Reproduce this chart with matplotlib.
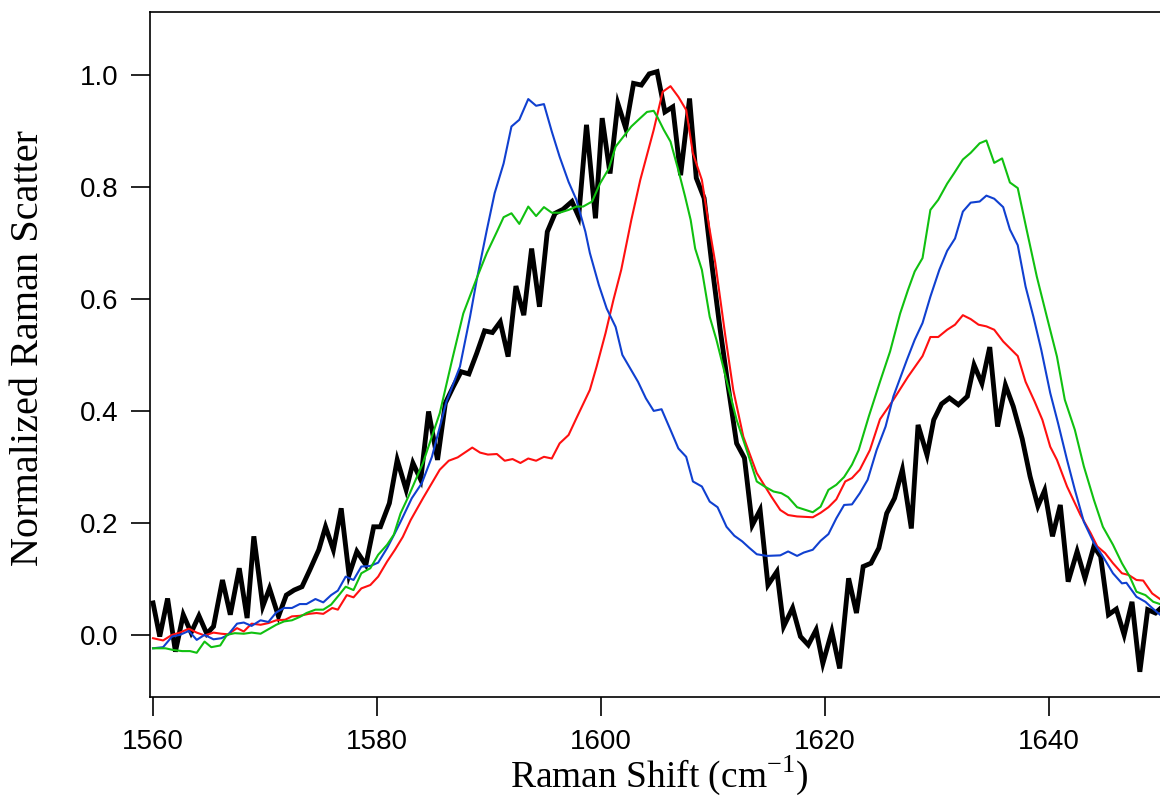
import numpy as np
import matplotlib
matplotlib.use("Agg")
import matplotlib.pyplot as plt

# black trace (noisy measured spectrum)
black_x = [1560.0, 1560.6, 1561.3, 1562.0, 1562.7, 1563.4, 1564.1, 1564.8, 1565.4, 1566.2,
           1566.9, 1567.7, 1568.4, 1569.0, 1569.8, 1570.4, 1571.2, 1571.9, 1572.6, 1573.3,
           1574.0, 1574.8, 1575.4, 1576.1, 1576.8, 1577.5, 1578.2, 1579.0, 1579.7, 1580.3,
           1581.1, 1581.8, 1582.6, 1583.2, 1583.9, 1584.6, 1585.4, 1586.1, 1586.8, 1587.5,
           1588.2, 1588.9, 1589.6, 1590.3, 1591.0, 1591.7, 1592.4, 1593.1, 1593.8, 1594.5,
           1595.2, 1595.9, 1596.6, 1597.4, 1598.0, 1598.7, 1599.5, 1600.1, 1600.8, 1601.5,
           1602.2, 1602.9, 1603.6, 1604.3, 1605.0, 1605.7, 1606.4, 1607.1, 1607.9, 1608.5,
           1609.2, 1609.9, 1610.6, 1611.3, 1612.1, 1612.8, 1613.5, 1614.2, 1614.9, 1615.7,
           1616.3, 1617.1, 1617.8, 1618.5, 1619.2, 1619.8, 1620.6, 1621.3, 1622.1, 1622.8,
           1623.4, 1624.1, 1624.8, 1625.5, 1626.2, 1626.9, 1627.7, 1628.3, 1629.1, 1629.7,
           1630.4, 1631.1, 1631.9, 1632.7, 1633.3, 1634.0, 1634.7, 1635.4, 1636.1, 1636.8,
           1637.6, 1638.3, 1639.0, 1639.6, 1640.3, 1641.0, 1641.7, 1642.5, 1643.2, 1644.0,
           1644.6, 1645.3, 1646.0, 1646.7, 1647.4, 1648.1, 1648.8, 1649.5, 1650.1]
black_y = [0.057, -0.003, 0.065, -0.030, 0.036, 0.004, 0.034, 0.002, 0.015, 0.098,
           0.036, 0.119, 0.030, 0.176, 0.051, 0.083, 0.033, 0.071, 0.080, 0.086,
           0.116, 0.152, 0.193, 0.152, 0.226, 0.107, 0.149, 0.125, 0.193, 0.193,
           0.235, 0.3125, 0.259, 0.307, 0.277, 0.399, 0.3125, 0.414, 0.443, 0.470,
           0.466, 0.503, 0.543, 0.540, 0.559, 0.497, 0.623, 0.571, 0.690, 0.586,
           0.720, 0.753, 0.760, 0.774, 0.747, 0.911, 0.744, 0.923, 0.824, 0.949,
           0.905, 0.985, 0.982, 1.002, 1.006, 0.934, 0.943, 0.821, 0.958, 0.816,
           0.780, 0.66, 0.55, 0.45, 0.342, 0.316, 0.196, 0.223, 0.089, 0.113,
           0.015, 0.048, -0.003, -0.018, 0.009, -0.051, 0.006, -0.060, 0.101, 0.039,
           0.122, 0.128, 0.155, 0.217, 0.244, 0.295, 0.190, 0.375, 0.321, 0.384,
           0.4125, 0.423, 0.411, 0.426, 0.482, 0.449, 0.514, 0.372, 0.446, 0.408,
           0.350, 0.283, 0.230, 0.258, 0.176, 0.232, 0.095, 0.149, 0.101, 0.158,
           0.140, 0.036, 0.046, 0.000, 0.059, -0.066, 0.045, 0.039, 0.05]

red_x = [1560.0, 1560.9, 1561.7, 1562.4, 1563.2, 1563.9, 1564.6, 1565.4, 1566.1, 1566.7,
         1567.5, 1568.1, 1568.8, 1569.6, 1570.3, 1571.0, 1571.8, 1572.4, 1573.1, 1573.9,
         1574.6, 1575.2, 1576.0, 1576.5, 1577.3, 1577.9, 1578.6, 1579.4, 1580.1, 1580.9,
         1581.6, 1582.3, 1583.0, 1584.1, 1585.6, 1586.4, 1587.2, 1588.5, 1589.2, 1589.9,
         1590.7, 1591.4, 1592.1, 1592.8, 1593.5, 1594.2, 1594.9, 1595.6, 1596.3, 1597.1,
         1597.8, 1599.0, 1599.6, 1600.4, 1601.1, 1601.8, 1602.7, 1603.5, 1604.7, 1605.5,
         1606.2, 1606.9, 1607.6, 1608.2, 1609.0, 1609.6, 1610.2, 1611.1, 1611.8, 1612.7,
         1613.9, 1615.2, 1616.0, 1616.7, 1617.5, 1618.9, 1619.6, 1620.3, 1621.0, 1621.8,
         1622.4, 1623.1, 1624.0, 1624.9, 1626.1, 1627.4, 1628.7, 1629.4, 1630.1, 1630.9,
         1631.6, 1632.3, 1633.0, 1633.7, 1634.4, 1635.1, 1635.9, 1636.5, 1637.2, 1637.9,
         1638.7, 1639.4, 1640.1, 1640.7, 1641.6, 1642.8, 1643.7, 1644.3, 1645.0, 1645.7,
         1646.5, 1647.1, 1647.8, 1648.4, 1649.2, 1649.9]
red_y = [-0.006, -0.010, 0.000, 0.004, 0.011, 0.004, -0.001, 0.004, 0.002, 0.001,
         0.012, 0.006, 0.020, 0.018, 0.021, 0.026, 0.027, 0.033, 0.034, 0.0375,
         0.039, 0.0375, 0.048, 0.045, 0.071, 0.067, 0.083, 0.089, 0.104, 0.131,
         0.152, 0.175, 0.205, 0.244, 0.295, 0.311, 0.317, 0.3345, 0.3255, 0.322,
         0.323, 0.311, 0.314, 0.307, 0.315, 0.311, 0.318, 0.315, 0.342, 0.357,
         0.387, 0.4375, 0.479, 0.539, 0.598, 0.652, 0.741, 0.8125, 0.902, 0.970,
         0.980, 0.961, 0.9375, 0.860, 0.8125, 0.735, 0.664, 0.533, 0.4375, 0.354,
         0.289, 0.247, 0.223, 0.214, 0.2115, 0.210, 0.218, 0.228, 0.242, 0.274,
         0.280, 0.295, 0.330, 0.385, 0.420, 0.461, 0.498, 0.532, 0.532, 0.545,
         0.554, 0.571, 0.564, 0.554, 0.551, 0.545, 0.524, 0.512, 0.498, 0.452,
         0.417, 0.384, 0.336, 0.3125, 0.265, 0.214, 0.182, 0.158, 0.146, 0.128,
         0.110, 0.107, 0.098, 0.097, 0.074, 0.064]

green_x = [1560.0, 1561.1, 1561.8, 1562.6, 1563.3, 1563.9, 1564.6, 1565.2, 1566.0, 1566.6,
           1567.3, 1568.1, 1568.8, 1569.6, 1570.3, 1571.0, 1571.7, 1572.4, 1573.1, 1573.7,
           1574.5, 1575.2, 1575.9, 1576.6, 1577.2, 1577.9, 1578.6, 1579.4, 1580.1, 1580.9,
           1581.5, 1582.1, 1582.8, 1584.1, 1585.6, 1586.7, 1587.7, 1588.9, 1589.8, 1590.7,
           1591.3, 1592.0, 1592.7, 1593.5, 1594.2, 1594.9, 1595.6, 1596.3, 1597.1, 1597.8,
           1598.4, 1599.2, 1599.9, 1600.7, 1601.3, 1602.0, 1602.7, 1603.5, 1604.1, 1604.7,
           1605.0, 1605.6, 1606.2, 1606.9, 1607.5, 1608.0, 1608.4, 1609.0, 1609.7, 1610.3,
           1611.2, 1612.1, 1613.2, 1613.9, 1614.6, 1615.4, 1616.1, 1616.7, 1617.5, 1618.9,
           1619.6, 1620.3, 1621.0, 1621.7, 1622.4, 1623.0, 1623.9, 1624.9, 1625.8, 1626.7,
           1627.4, 1628.0, 1628.7, 1629.4, 1630.1, 1630.9, 1631.5, 1632.3, 1633.0, 1633.8,
           1634.4, 1635.1, 1635.8, 1636.5, 1637.2, 1638.0, 1638.9, 1639.8, 1640.7, 1641.4,
           1642.3, 1643.1, 1644.0, 1644.8, 1645.7, 1646.5, 1647.2, 1647.8, 1648.6, 1649.3,
           1649.9]
green_y = [-0.024, -0.024, -0.027, -0.029, -0.029, -0.032, -0.012, -0.022, -0.019, 0.000,
           0.003, 0.002, 0.004, 0.002, 0.010, 0.018, 0.024, 0.026, 0.032, 0.039,
           0.045, 0.045, 0.054, 0.071, 0.086, 0.080, 0.110, 0.119, 0.143, 0.161,
           0.179, 0.217, 0.247, 0.307, 0.396, 0.491, 0.574, 0.637, 0.682, 0.720,
           0.746, 0.753, 0.734, 0.765, 0.748, 0.764, 0.754, 0.754, 0.759, 0.765,
           0.765, 0.774, 0.806, 0.833, 0.872, 0.890, 0.908, 0.923, 0.934, 0.936,
           0.926, 0.902, 0.881, 0.830, 0.783, 0.741, 0.690, 0.652, 0.568, 0.527,
           0.455, 0.384, 0.318, 0.274, 0.265, 0.256, 0.253, 0.246, 0.228, 0.219,
           0.229, 0.259, 0.268, 0.282, 0.304, 0.330, 0.390, 0.452, 0.506, 0.574,
           0.616, 0.649, 0.673, 0.759, 0.777, 0.806, 0.824, 0.849, 0.861, 0.878,
           0.883, 0.843, 0.851, 0.808, 0.798, 0.723, 0.640, 0.568, 0.497, 0.420,
           0.366, 0.301, 0.241, 0.193, 0.161, 0.128, 0.104, 0.077, 0.071, 0.059,
           0.055]

blue_x = [1560.0, 1560.9, 1561.7, 1562.4, 1563.2, 1563.9, 1564.6, 1565.4, 1566.1, 1566.7,
          1567.5, 1568.1, 1568.8, 1569.6, 1570.3, 1571.0, 1571.7, 1572.4, 1573.1, 1573.7,
          1574.5, 1575.2, 1575.9, 1576.5, 1577.2, 1577.9, 1578.6, 1579.4, 1580.1, 1580.9,
          1581.6, 1582.1, 1583.1, 1584.0, 1584.9, 1586.2, 1587.4, 1588.3, 1588.9, 1589.8,
          1590.5, 1591.3, 1592.0, 1592.7, 1593.5, 1594.2, 1594.9, 1595.6, 1596.3, 1597.1,
          1597.8, 1598.6, 1599.0, 1599.8, 1600.5, 1601.3, 1601.9, 1602.6, 1603.3, 1604.0,
          1604.7, 1605.4, 1606.2, 1606.9, 1607.6, 1608.2, 1609.0, 1609.7, 1610.4, 1611.2,
          1611.9, 1612.6, 1613.2, 1613.9, 1614.8, 1616.0, 1616.7, 1617.5, 1618.1, 1618.9,
          1619.6, 1620.3, 1621.0, 1621.7, 1622.4, 1623.1, 1623.8, 1624.6, 1625.4, 1626.1,
          1627.3, 1628.0, 1628.7, 1629.4, 1630.2, 1630.9, 1631.6, 1632.3, 1633.0, 1633.8,
          1634.4, 1635.1, 1635.9, 1636.5, 1637.2, 1637.9, 1638.6, 1639.3, 1640.1, 1640.8,
          1641.6, 1642.3, 1643.1, 1644.0, 1644.8, 1645.7, 1646.5, 1646.9, 1647.8, 1648.6,
          1649.2, 1649.9]
blue_y = [-0.024, -0.022, -0.003, 0.000, 0.007, -0.009, 0.000, -0.008, -0.006, 0.000,
          0.020, 0.022, 0.016, 0.026, 0.023, 0.040, 0.048, 0.048, 0.055, 0.055,
          0.064, 0.058, 0.071, 0.079, 0.104, 0.098, 0.122, 0.123, 0.129, 0.155,
          0.182, 0.202, 0.244, 0.271, 0.318, 0.417, 0.479, 0.568, 0.634, 0.723,
          0.789, 0.842, 0.908, 0.920, 0.957, 0.945, 0.948, 0.899, 0.854, 0.809,
          0.777, 0.720, 0.682, 0.625, 0.583, 0.550, 0.500, 0.476, 0.452, 0.4225,
          0.400, 0.403, 0.366, 0.333, 0.318, 0.274, 0.265, 0.238, 0.228, 0.193,
          0.177, 0.167, 0.156, 0.144, 0.141, 0.142, 0.149, 0.141, 0.147, 0.152,
          0.168, 0.180, 0.208, 0.232, 0.233, 0.253, 0.277, 0.330, 0.372, 0.426,
          0.491, 0.527, 0.557, 0.604, 0.652, 0.686, 0.708, 0.756, 0.772, 0.774,
          0.7845, 0.779, 0.764, 0.724, 0.696, 0.622, 0.568, 0.509, 0.432, 0.378,
          0.3125, 0.259, 0.202, 0.164, 0.140, 0.110, 0.092, 0.093, 0.068, 0.059,
          0.048, 0.036]

x_ticks = [1560, 1580, 1600, 1620, 1640]
y_ticks = [0.0, 0.2, 0.4, 0.6, 0.8, 1.0]

plt.rcParams['font.family'] = ['Liberation Sans', 'DejaVu Sans']
plt.rcParams['mathtext.fontset'] = 'custom'
plt.rcParams['mathtext.rm'] = 'Liberation Serif'

fig = plt.figure(figsize=(11.6, 8.1), dpi=100)
ax = fig.add_axes([150 / 1160, 1 - 697 / 810, 1010 / 1160, 685 / 810])

ax.plot(black_x, black_y, color='black', lw=3.5, solid_joinstyle='miter', zorder=2)
ax.plot(red_x, red_y, color='#ff1010', lw=1.5, zorder=3)
ax.plot(blue_x, blue_y, color='#1040d0', lw=1.5, zorder=3)
ax.plot(green_x, green_y, color='#10c010', lw=1.5, zorder=3)

ax.set_xlim(1559.73, 1649.9)
ax.set_ylim(-0.111, 1.1125)
ax.set_xticks(x_ticks)
ax.set_yticks(y_ticks)
ax.set_yticklabels(['%.1f' % v for v in y_ticks])

for s in ['left', 'top', 'bottom']:
    ax.spines[s].set_linewidth(1.2)
ax.spines['right'].set_visible(False)
ax.tick_params(direction='out', length=14, width=1.2, labelsize=20, pad=9)

ax.set_ylabel('Normalized Raman Scatter', family='Liberation Serif', fontsize=29)
ax.set_xlabel('Raman Shift (cm$^{-1}$)', family='Liberation Serif', fontsize=27)
ax.yaxis.set_label_coords(-0.102, 0.51)
ax.xaxis.set_label_coords(0.504, -0.083)

fig.savefig('out.png', dpi=100)
